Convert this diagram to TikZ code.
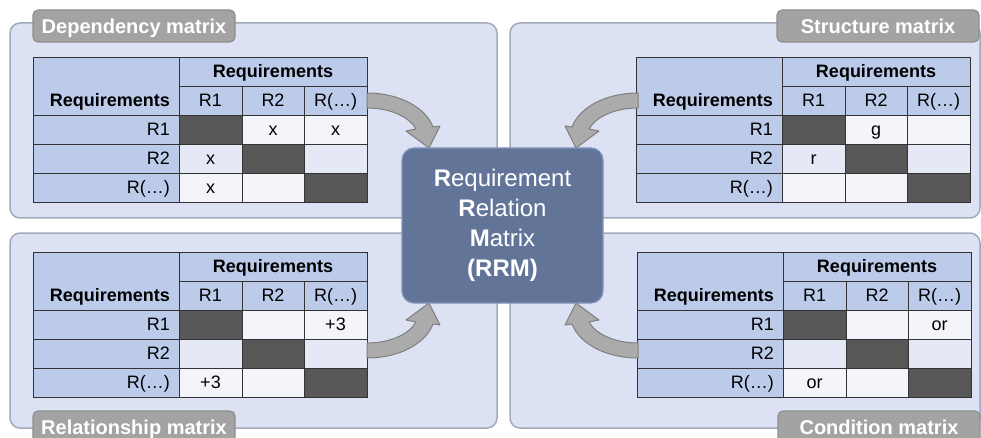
\documentclass[tikz,border=0pt]{standalone}
\usepackage{fontspec}
\setmainfont{Liberation Sans}

\definecolor{panelfill}{HTML}{DCE2F3}
\definecolor{paneledge}{HTML}{A2AAB9}
\definecolor{hdrfill}{HTML}{BBCBE9}
\definecolor{rowlight}{HTML}{F3F5FA}
\definecolor{rowblue}{HTML}{E5E9F5}
\definecolor{diagfill}{HTML}{575757}
\definecolor{tabfill}{HTML}{A3A3A3}
\definecolor{tabedge}{HTML}{8F8F8F}
\definecolor{rrmfill}{HTML}{627599}
\definecolor{rrmedge}{HTML}{8394BA}
\definecolor{feedfill}{HTML}{ABABAB}
\definecolor{feededge}{HTML}{7F7F7F}

\tikzset{
    panel/.style={fill=panelfill, draw=paneledge, line width=1.5pt, rounded corners=10pt},
    hdr/.style={fill=hdrfill},
    lightrow/.style={fill=rowlight},
    bluerow/.style={fill=rowblue},
    diag/.style={fill=diagfill},
    gridline/.style={draw=black!80, line width=0.9pt},
    colhead/.style={font=\bfseries\fontsize{18}{20}\selectfont, inner sep=0pt, text height=12.9pt, text depth=0pt},
    entry/.style={font=\fontsize{18}{20}\selectfont, inner sep=0pt, text height=12.9pt, text depth=0pt},
    tab/.style={fill=tabfill, draw=tabedge, line width=1.2pt, rounded corners=5pt, text=white,
        font=\bfseries\fontsize{20}{22}\selectfont, minimum width=202pt, minimum height=32pt,
        inner sep=0pt, text height=14.3pt, text depth=0pt},
    feed/.style={fill=feedfill, draw=feededge, line width=1pt, line join=round},
    rrm/.style={fill=rrmfill, draw=rrmedge, line width=1.2pt, rounded corners=12pt, text=white,
        minimum width=201pt, minimum height=155pt, align=center,
        font=\fontsize{24}{30}\selectfont}
}

% requirement matrix: name, top-left corner, off-diagonal entries
\newcommand{\reqmatrix}[8]{%
  \begin{scope}[shift={#2}]
    % header and label cells
    \fill[hdr] (0,0) rectangle (334,58);
    \fill[hdr] (0,58) rectangle (146,145);
    % entry cells
    \fill[lightrow] (146,58) rectangle (334,87);
    \fill[bluerow] (146,87) rectangle (334,116);
    \fill[lightrow] (146,116) rectangle (334,145);
    \fill[diag] (146,58) rectangle (209,87);
    \fill[diag] (209,87) rectangle (271,116);
    \fill[diag] (271,116) rectangle (334,145);
    % grid
    \draw[gridline] (146,29) -- (334,29)
      (0,58) -- (334,58) (0,87) -- (334,87) (0,116) -- (334,116)
      (146,0) -- (146,145) (209,29) -- (209,145) (271,29) -- (271,145);
    \draw[gridline] (0,0) rectangle (334,145);
    % headings
    \node[colhead] (#1-top) at (240,14.5) {Requirements};
    \node[colhead, anchor=east] (#1-side) at (137,43.5) {Requirements};
    \node[entry] (#1-c1) at (177.5,43.5) {R1};
    \node[entry] (#1-c2) at (240,43.5) {R2};
    \node[entry] (#1-c3) at (302.5,43.5) {R(…)};
    \node[entry, anchor=east] (#1-r1) at (137,72.5) {R1};
    \node[entry, anchor=east] (#1-r2) at (137,101.5) {R2};
    \node[entry, anchor=east] (#1-r3) at (137,130.5) {R(…)};
    % entries
    \node[entry] (#1-12) at (240,72.5) {#3};
    \node[entry] (#1-13) at (302.5,72.5) {#4};
    \node[entry] (#1-21) at (177.5,101.5) {#5};
    \node[entry] (#1-23) at (302.5,101.5) {#6};
    \node[entry] (#1-31) at (177.5,130.5) {#7};
    \node[entry] (#1-32) at (240,130.5) {#8};
  \end{scope}}

% curved block arrow towards the RRM box
\newcommand{\feedarrow}[1]{%
  \begin{scope}[shift={(mid)}, #1]
    \filldraw[feed] (-135.5,-132.5) .. controls (-102.5,-132.5) and (-76.5,-117.5) .. (-69.5,-98.5)
      -- (-62.5,-99.5) -- (-73.5,-77.5) -- (-96.5,-94.5) -- (-86.5,-96.5)
      .. controls (-92.5,-107.5) and (-110.5,-117.5) .. (-135.5,-117.5) -- cycle;
  \end{scope}}

\begin{document}
\begin{tikzpicture}[x=1pt, y=-1pt]
    \useasboundingbox (0,0) rectangle (981,438);
    \clip (0,0) rectangle (981,438);
    \coordinate (mid) at (502.5,225.5);

    % Panels
    \draw[panel] (10,23) rectangle (497,218);
    \draw[panel] (510,23) rectangle (980,218);
    \draw[panel] (10,233) rectangle (497,428);
    \draw[panel] (510,233) rectangle (980,428);

    % Matrices
    \reqmatrix{dep}{(33,57)}{x}{x}{x}{}{x}{}
    \reqmatrix{str}{(636,57)}{g}{}{r}{}{}{}
    \reqmatrix{rel}{(33,252)}{}{+3}{}{}{+3}{}
    \reqmatrix{con}{(637,252)}{}{or}{}{}{or}{}

    % Tabs
    \node[tab] (deptab) at (134,26) {Dependency matrix};
    \node[tab] (strtab) at (878,26) {Structure matrix};
    \node[tab] (reltab) at (134,427) {Relationship matrix};
    \node[tab] (contab) at (879,427) {Condition matrix};

    % Arrows
    \feedarrow{}
    \feedarrow{xscale=-1}
    \feedarrow{yscale=-1}
    \feedarrow{scale=-1}

    % Relation matrix
    \node[rrm] (rrm) at (mid) {\textbf{R}equirement\\\textbf{R}elation\\\textbf{M}atrix\\\textbf{(RRM)}};
\end{tikzpicture}
\end{document}
